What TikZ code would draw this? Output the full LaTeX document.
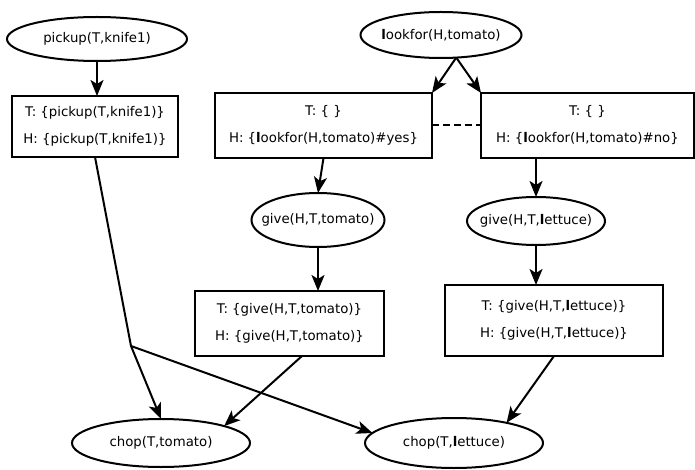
\documentclass[tikz,border=0pt]{standalone}
\usepackage{fontspec}
\setmainfont{DejaVu Sans}
\usetikzlibrary{shapes.geometric,arrows.meta,calc}
\newcommand{\bl}{\textbf{l}}
\newcommand{\zb}[1]{\makebox[0pt]{#1}}
\begin{document}
\begin{tikzpicture}[x=1pt,y=-1pt,
  every node/.style={font=\fontsize{13.3}{27}\selectfont},
  ell/.style={ellipse,draw,line width=2pt,inner sep=0pt,outer sep=0pt},
  box/.style={rectangle,draw,line width=2pt,inner sep=0pt,outer sep=0pt,align=center},
  arr/.style={line width=2pt,-{Stealth[length=16pt,width=13pt,inset=4pt]}},
  conn/.style={line width=2pt},
  dashconn/.style={line width=2pt,dash pattern=on 7pt off 4pt}]
\useasboundingbox (0,0) rectangle (695,470);

% ellipses
\node[ell,minimum width=180pt,minimum height=44pt] (pickup) at (97,39) {\zb{pickup(T,knife1)}};
\node[ell,minimum width=161pt,minimum height=46pt] (lookfor) at (441,35) {\zb{\bl ookfor(H,tomato)}};
\node[ell,minimum width=133pt,minimum height=54pt] (givet) at (318,220) {\zb{give(H,T,tomato)}};
\node[ell,minimum width=138pt,minimum height=48pt] (givel) at (536,221) {\zb{give(H,T,\bl ettuce)}};
\node[ell,minimum width=178pt,minimum height=48pt] (chopt) at (161,443) {\zb{chop(T,tomato)}};
\node[ell,minimum width=178pt,minimum height=50pt] (chopl) at (454,443) {\zb{chop(T,\bl ettuce)}};

% boxes
\node[box,minimum width=166pt,minimum height=61pt] (box1) at (95,126.5)
  {T: \{pickup(T,knife1)\}\\H: \{pickup(T,knife1)\}};
\node[box,minimum width=217pt,minimum height=65pt] (box2) at (323.5,125.5)
  {T: \{ \}\\H: \{\bl ookfor(H,tomato)\#yes\}};
\node[box,minimum width=213pt,minimum height=65pt] (box3) at (587.5,125.5)
  {T: \{ \}\\H: \{\bl ookfor(H,tomato)\#no\}};
\node[box,minimum width=189pt,minimum height=65pt] (box4) at (289.5,323.5)
  {T: \{give(H,T,tomato)\}\\H: \{give(H,T,tomato)\}};
\node[box,minimum width=218pt,minimum height=71pt] (box5) at (554,320.5)
  {T: \{give(H,T,\bl ettuce)\}\\H: \{give(H,T,\bl ettuce)\}};

\coordinate (j) at (131,346);

% connectors
\draw[arr] (pickup.south) -- (pickup.south |- box1.north);
\draw[arr] (lookfor.-56) -- (box2.north east);
\draw[arr] (lookfor.-56) -- (box3.north west);
\draw[dashconn] (box2.east) -- (box3.west);
\draw[arr] (box2.south) -- (givet.north);
\draw[arr] (givet.south) -- (givet.south |- box4.north);
\draw[arr] (givel.north |- box3.south) -- (givel.north);
\draw[arr] (givel.south) -- (givel.south |- box5.north);
\draw[conn] (box1.south) -- (j);
\draw[arr] (j) -- (chopt.north);
\draw[arr] (j) -- (chopl.173);
\draw[arr] (box4.-69) -- (chopt.15);
\draw[arr] (box5.south) -- (chopl.21);
\end{tikzpicture}
\end{document}
